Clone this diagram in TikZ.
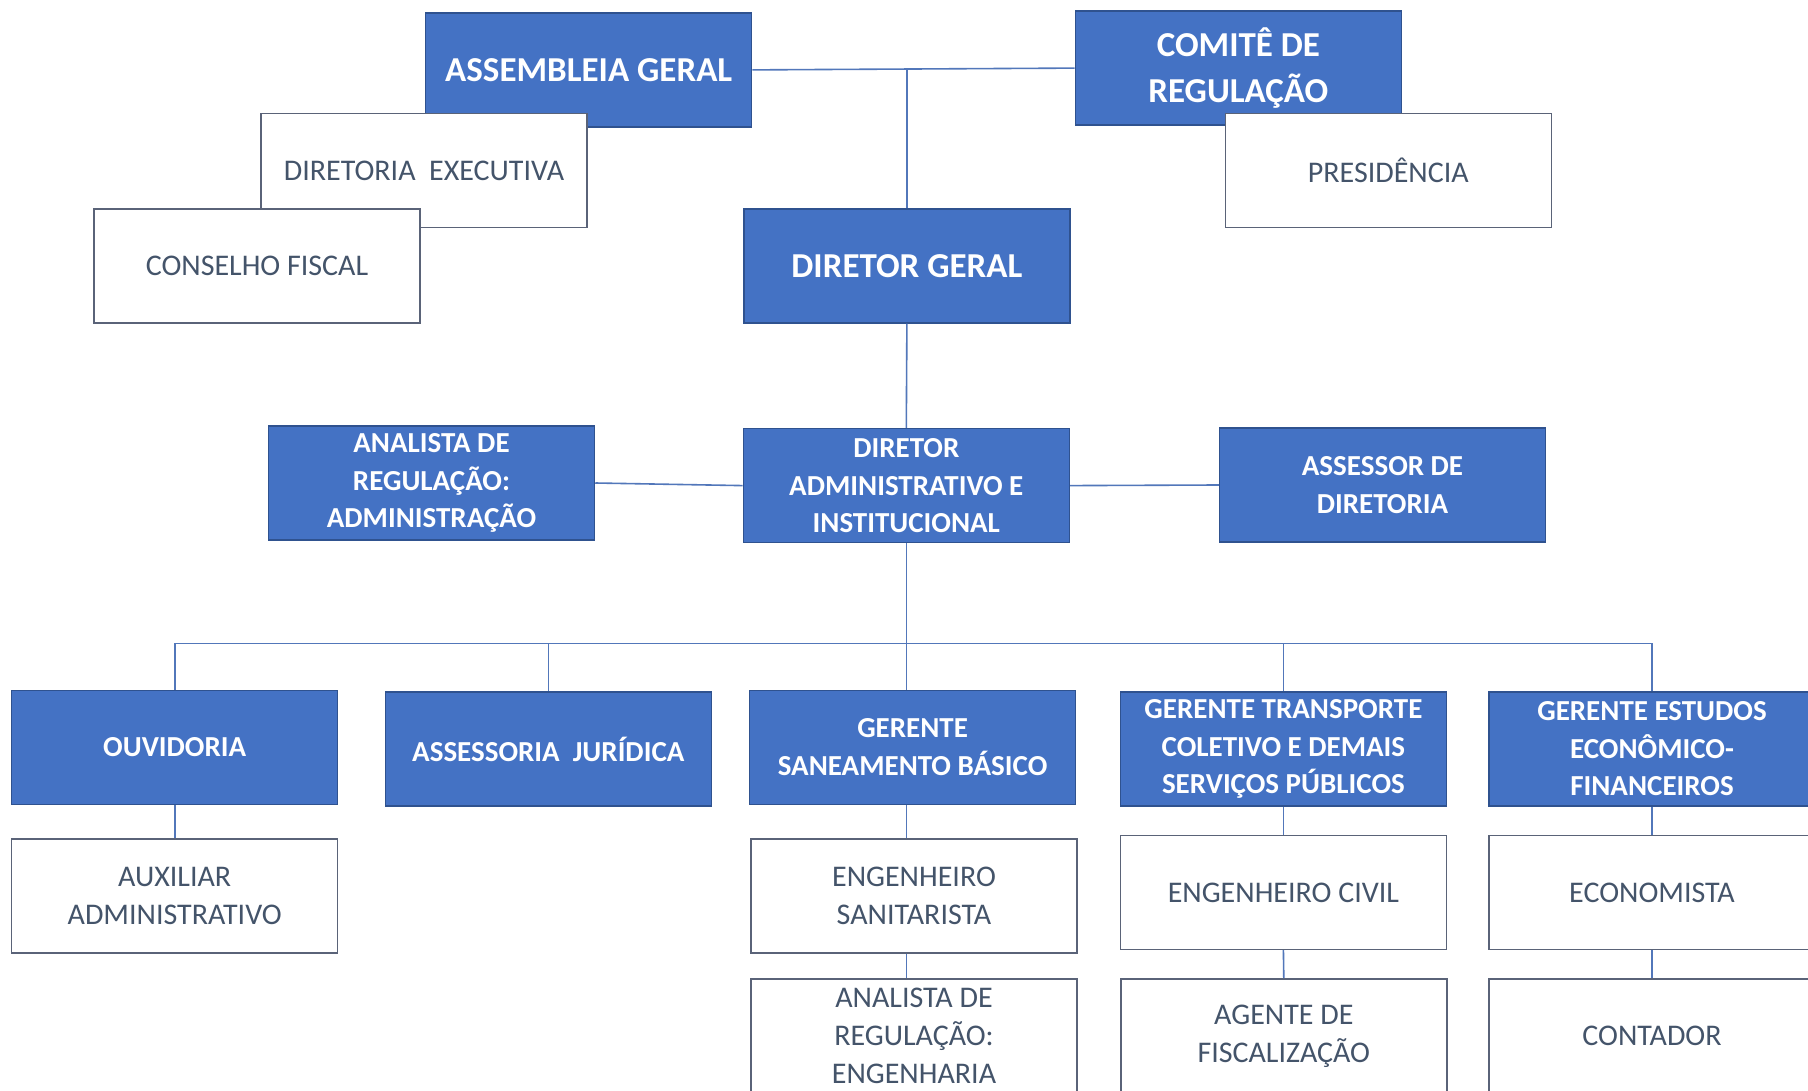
\documentclass[tikz,border=0pt]{standalone}
\usepackage{fontspec}
\setmainfont{Carlito}
\definecolor{bfill}{HTML}{4472C4}
\definecolor{bline}{HTML}{2F528F}
\definecolor{slate}{HTML}{44546A}
\definecolor{wline}{HTML}{5A6378}
\definecolor{conn}{HTML}{5277BA}
\begin{document}
\begin{tikzpicture}[x=1pt,y=1pt,
  boxbase/.style={rectangle, minimum width=326pt, minimum height=114pt, inner sep=0pt, align=center},
  bluebox/.style={boxbase, fill=bfill, draw=bline, line width=1.5pt, text=white, font=\fontsize{29}{37.5}\selectfont\bfseries},
  bigblue/.style={bluebox, font=\fontsize{35}{46}\selectfont\bfseries},
  whitebox/.style={boxbase, fill=white, draw=wline, line width=1.5pt, text=slate, font=\fontsize{30}{38}\selectfont},
  conline/.style={draw=conn, line width=1.6pt}]
\useasboundingbox (0,0) rectangle (1808,-1091);
\fill[white] (0,0) rectangle (1808,-1091);
% top level
\node[bigblue] (ag) at (588.7,-69.9) {ASSEMBLEIA GERAL};
\node[bigblue] (cr) at (1238.4,-68.1) {COMITÊ DE\\REGULAÇÃO};
\node[whitebox] (de) at (424,-170.7) {DIRETORIA\ \ EXECUTIVA};
\node[whitebox] (cf) at (257,-265.9) {CONSELHO FISCAL};
\node[whitebox] (pr) at (1388.3,-170.3) {PRESIDÊNCIA};
\node[bigblue] (dg) at (906.9,-265.9) {DIRETOR GERAL};
% second level
\node[bluebox] (an) at (431.5,-483) {ANALISTA DE\\REGULAÇÃO:\\ADMINISTRAÇÃO};
\node[bluebox] (da) at (906.3,-485.6) {DIRETOR\\ADMINISTRATIVO E\\INSTITUCIONAL};
\node[bluebox] (as) at (1382.5,-485) {ASSESSOR DE\\DIRETORIA};
% managers
\node[bluebox] (ov) at (174.7,-747.5) {OUVIDORIA};
\node[bluebox] (aj) at (548.3,-749) {ASSESSORIA\ \ JURÍDICA};
\node[bluebox] (gs) at (912.6,-747.3) {GERENTE\\SANEAMENTO BÁSICO};
\node[bluebox] (gt) at (1283.4,-749) {GERENTE TRANSPORTE\\COLETIVO E DEMAIS\\SERVIÇOS PÚBLICOS};
\node[bluebox] (ge) at (1652,-749) {GERENTE ESTUDOS\\ECONÔMICO-\\FINANCEIROS};
% staff
\node[whitebox] (ax) at (174.7,-895.9) {AUXILIAR\\ADMINISTRATIVO};
\node[whitebox] (es) at (914,-895.9) {ENGENHEIRO\\SANITARISTA};
\node[whitebox] (ae) at (914,-1035.8) {ANALISTA DE\\REGULAÇÃO:\\ENGENHARIA};
\node[whitebox] (ec) at (1283.4,-892.4) {ENGENHEIRO CIVIL};
\node[whitebox] (fi) at (1283.8,-1035.8) {AGENTE DE\\FISCALIZAÇÃO};
\node[whitebox] (eco) at (1652,-892.4) {ECONOMISTA};
\node[whitebox] (ct) at (1652,-1035.8) {CONTADOR};
% connectors
\coordinate (bus) at (906,-643.4);
\draw[conline] (ag.east) -- (cr.west);
\draw[conline] (dg.north |- ag.east) -- (dg.north);
\draw[conline] (dg.south) -- (da.north);
\draw[conline] (an.east) -- (da.west);
\draw[conline] (da.east) -- (as.west);
\draw[conline] (da.south) -- (da.south |- gs.north);
\draw[conline] (ov.north |- bus) -- (ge.north |- bus);
\draw[conline] (ov.north |- bus) -- (ov.north);
\draw[conline] (aj.north |- bus) -- (aj.north);
\draw[conline] (gt.north |- bus) -- (gt.north);
\draw[conline] (ge.north |- bus) -- (ge.north);
\draw[conline] (ov.south) -- (ax.north);
\draw[conline] (da.south |- gs.south) -- (da.south |- es.north);
\draw[conline] (da.south |- es.south) -- (da.south |- ae.north);
\draw[conline] (gt.south) -- (ec.north);
\draw[conline] (ec.south) -- (fi.north);
\draw[conline] (ge.south) -- (eco.north);
\draw[conline] (eco.south) -- (ct.north);
\end{tikzpicture}
\end{document}
